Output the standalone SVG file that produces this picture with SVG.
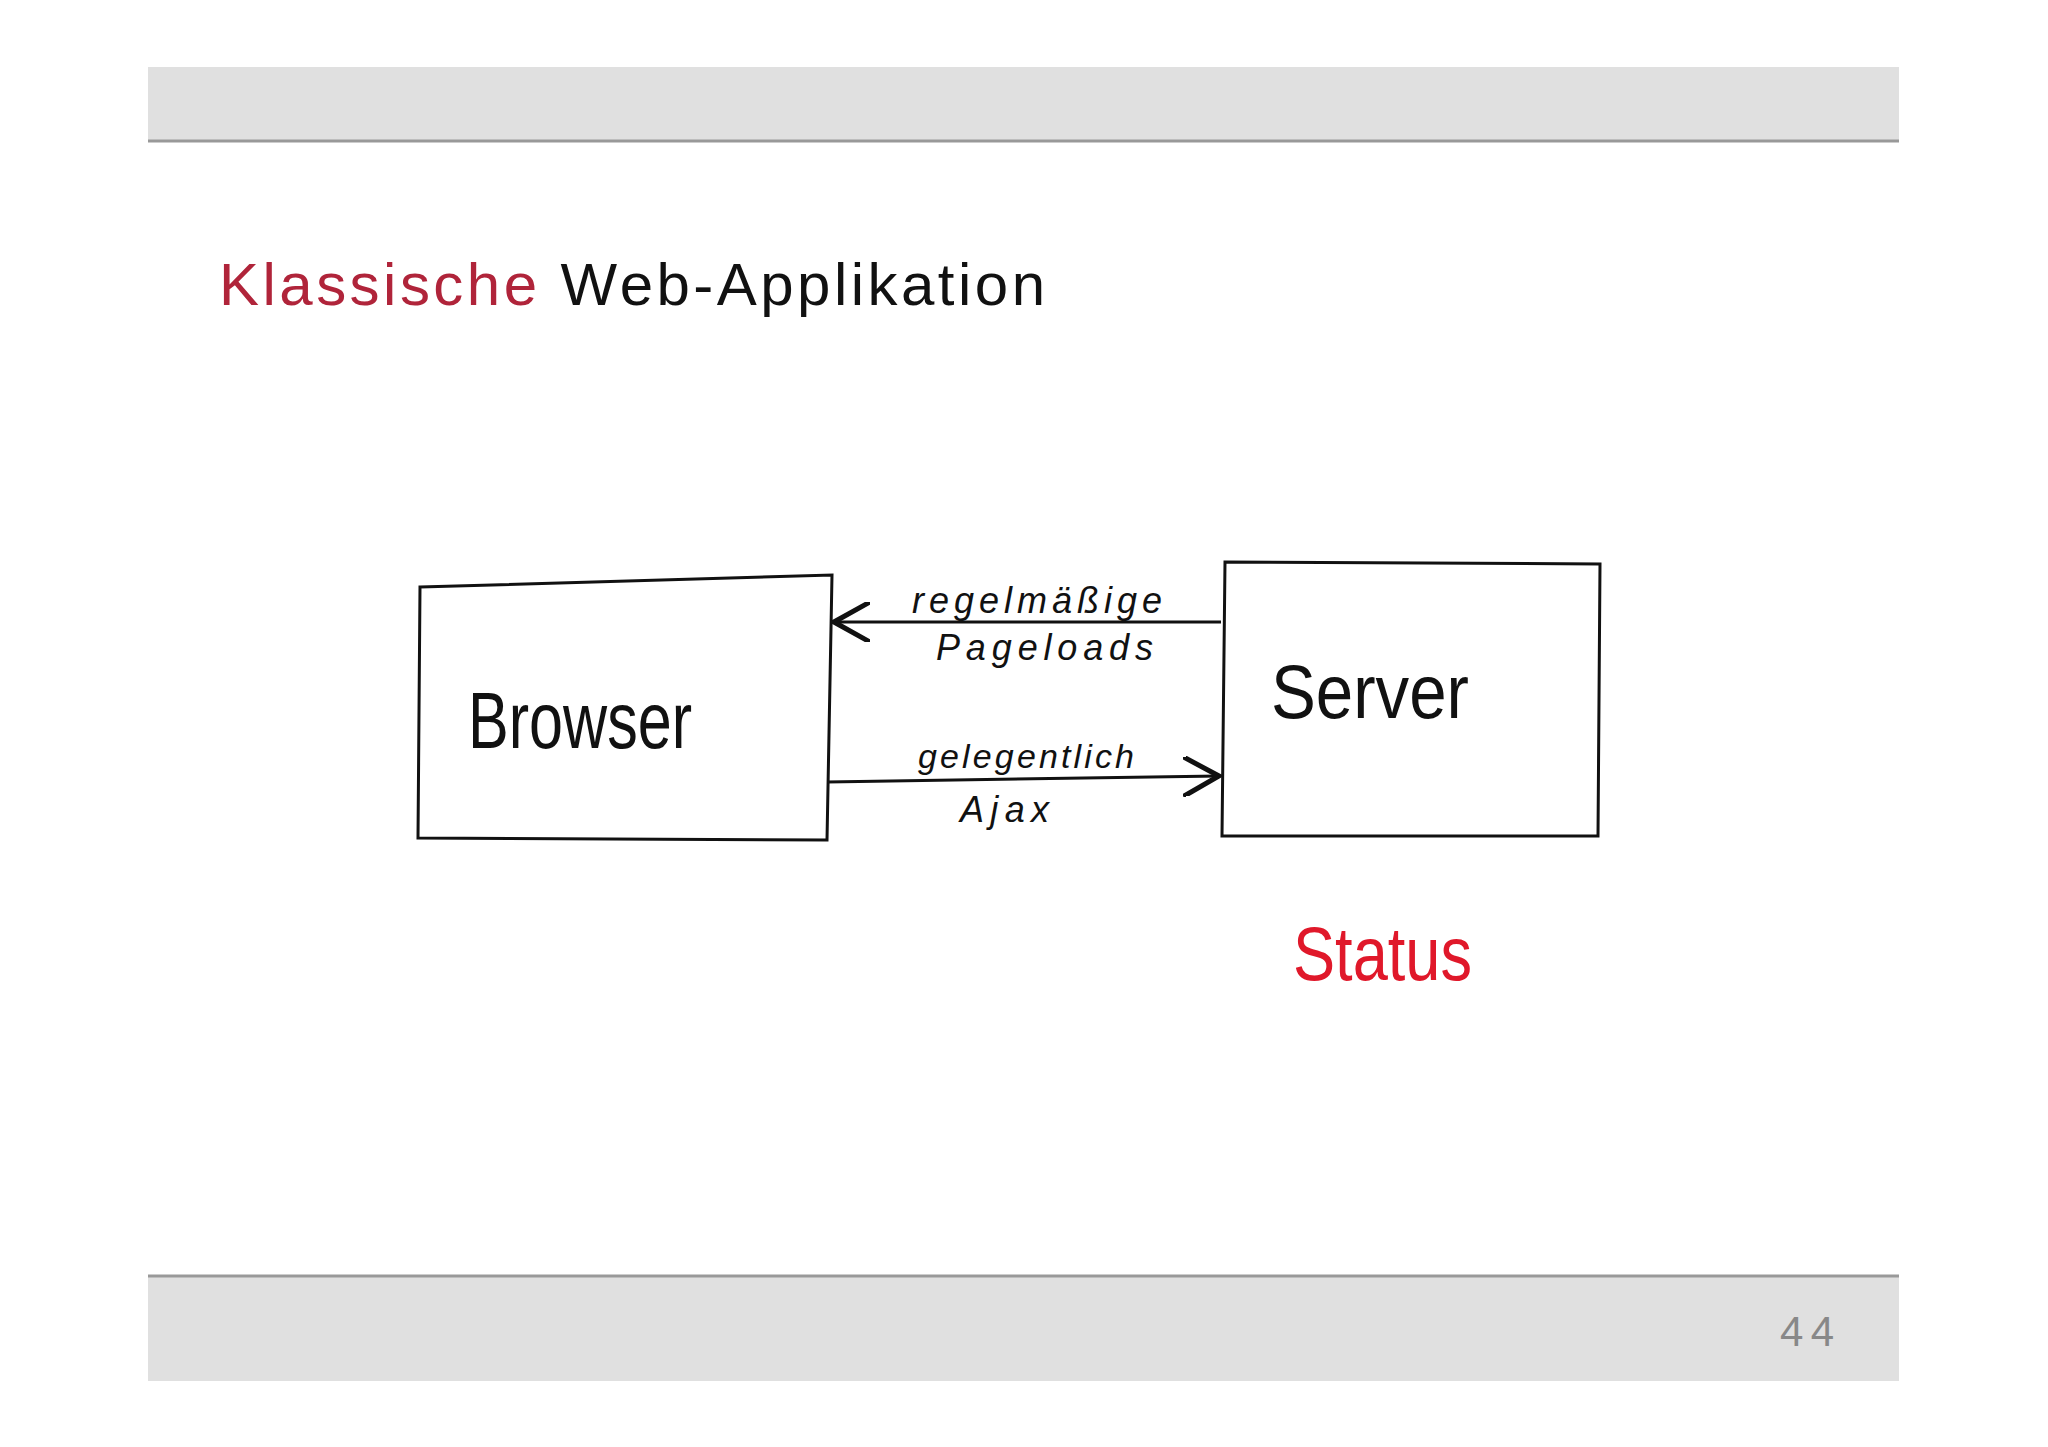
<svg xmlns="http://www.w3.org/2000/svg" width="2048" height="1447" viewBox="0 0 2048 1447">
<defs>
<style>
.box{fill:none;stroke:#111;stroke-width:3}
.hand{font-family:"Liberation Sans",sans-serif;fill:#111;font-style:italic}
.line{stroke:#111;stroke-width:3;fill:none}
</style>
<marker id="ah" viewBox="0 0 20 20" refX="18" refY="10" markerWidth="40" markerHeight="40" markerUnits="userSpaceOnUse" orient="auto"><path d="M0,0 L18,10 L0,20" fill="none" stroke="#111" stroke-width="2.5"/></marker>
</defs>
<rect width="2048" height="1447" fill="#fff"/>
<rect x="148" y="67" width="1751" height="73" fill="#e0e0e0"/>
<line x1="148" y1="141" x2="1899" y2="141" stroke="#999" stroke-width="3"/>
<rect x="148" y="1276" width="1751" height="105" fill="#e0e0e0"/>
<line x1="148" y1="1276" x2="1899" y2="1276" stroke="#999" stroke-width="3"/>
<text x="1780" y="1346" font-family="Liberation Sans,sans-serif" font-size="42" fill="#888" textLength="54">44</text>
<text x="219" y="305" font-family="Liberation Sans,sans-serif" font-size="60" textLength="826"><tspan fill="#b0243a">Klassische</tspan> <tspan fill="#111">Web-Applikation</tspan></text>
<g id="browser"><path class="box" d="M420,587 L832,575 L827,840 L418,838 Z"/><text x="468" y="748" font-family="Liberation Sans,sans-serif" font-size="80" fill="#111" textLength="224" lengthAdjust="spacingAndGlyphs">Browser</text></g>
<g id="server"><path class="box" d="M1225,562 L1600,564 L1598,836 L1222,836 Z"/><text x="1271" y="718" font-family="Liberation Sans,sans-serif" font-size="76" fill="#111" textLength="198" lengthAdjust="spacingAndGlyphs">Server</text></g>
<g id="connectors">
<line class="line" x1="1221" y1="622" x2="834" y2="622" marker-end="url(#ah)"/>
<line class="line" x1="827" y1="782" x2="1219" y2="776" marker-end="url(#ah)"/>
</g>
<text class="hand" x="912" y="613" font-size="36" textLength="250">regelmäßige</text>
<text class="hand" x="936" y="660" font-size="36" textLength="217">Pageloads</text>
<text class="hand" x="918" y="768" font-size="34" textLength="216">gelegentlich</text>
<text class="hand" x="960" y="822" font-size="36" textLength="89">Ajax</text>
<text x="1293" y="980" font-family="Liberation Sans,sans-serif" font-size="76" fill="#e0182a" textLength="179" lengthAdjust="spacingAndGlyphs">Status</text>
</svg>
